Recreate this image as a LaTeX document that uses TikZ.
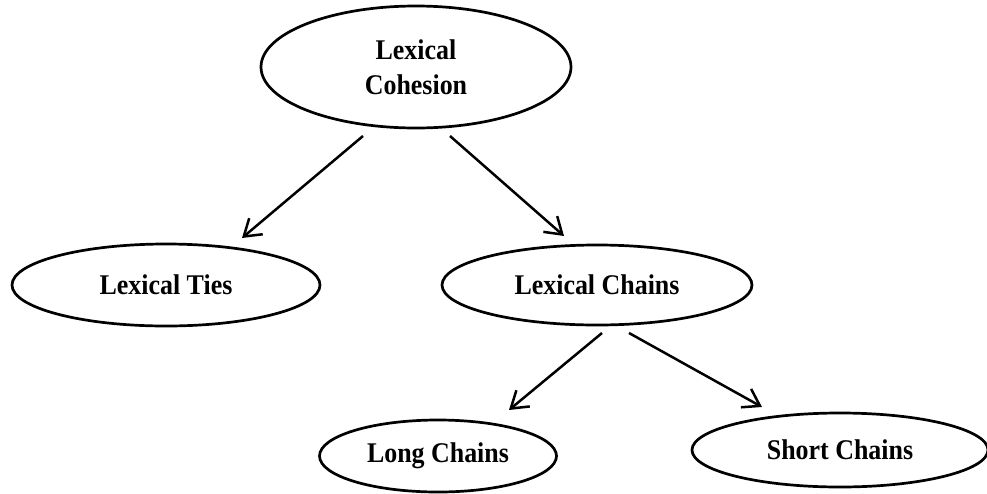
\documentclass[tikz,border=0pt]{standalone}
\usepackage{fontspec}
\setmainfont{Liberation Serif}[FakeStretch=0.91]
\usetikzlibrary{shapes.geometric,arrows.meta,calc}
\begin{document}
\begin{tikzpicture}[x=1pt,y=-1pt,
  oval/.style={ellipse, draw=black, line width=2.7pt, inner sep=0pt,
    font=\fontsize{28.5}{35}\selectfont\bfseries, align=center},
  arr/.style={line width=2.5pt, -{Straight Barb[length=16pt,width=21pt]}}]
\useasboundingbox (0,0) rectangle (987,493);
\node[oval, minimum width=310pt, minimum height=122pt] (top) at (416,67) {Lexical\\Cohesion};
\node[oval, minimum width=308pt, minimum height=82pt] (ties) at (166,285) {Lexical Ties};
\node[oval, minimum width=310pt, minimum height=80pt] (chains) at (597,285) {Lexical Chains};
\node[oval, minimum width=237pt, minimum height=72pt] (long) at (438,456) {Long Chains};
\node[oval, minimum width=296pt, minimum height=74pt] (short) at (840,450) {Short Chains};
\draw[arr] ($(top)+(-53,69)$) -- ($(ties)+(76,-47)$);
\draw[arr] ($(top)+(34,69)$) -- ($(chains)+(-33,-49)$);
\draw[arr] ($(chains)+(5,48)$) -- ($(long)+(71,-46)$);
\draw[arr] ($(chains)+(32,48)$) -- ($(short)+(-78,-43)$);
\end{tikzpicture}
\end{document}
